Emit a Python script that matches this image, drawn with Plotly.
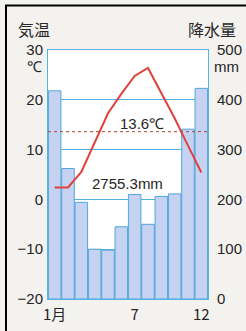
import plotly.graph_objects as go

months = list(range(1, 13))
month_labels = ["1月", "", "", "", "", "", "7", "", "", "", "", "12"]
precip_mm = [418, 262, 194, 100, 98, 145, 210, 150, 206, 211, 341, 423]
temp_c = [2.4, 2.4, 5.5, 11.3, 17.3, 21.2, 24.8, 26.4, 21.5, 16.3, 10.8, 5.4]
mean_temp = 13.6
total_precip = "2755.3mm"
temp_ticks = [-20, -10, 0, 10, 20, 30]
temp_tick_text = ["−20", "−10", "0", "10", "20", "30"]
precip_ticks = [0, 100, 200, 300, 400, 500]
precip_tick_text = ["0", "100", "200", "300", "400", "500"]

NUM_FONT = "Liberation Sans Narrow, Arial Narrow, Liberation Sans, Arial, sans-serif"
CJK_FONT = "Noto Sans CJK JP, sans-serif"
TXT = "#262626"
BLUE = "#58b2df"
BG = "#f3f2ee"

fig = go.Figure()
# precipitation bars on the primary axis (right side), temperature on the overlaying axis
fig.add_trace(go.Bar(
    x=months, y=precip_mm, yaxis="y",
    marker=dict(color="#c6d2f2", line=dict(color="#4ea6da", width=1)),
    showlegend=False, hoverinfo="skip",
))
fig.add_trace(go.Scatter(
    x=months, y=temp_c, yaxis="y2", mode="lines",
    line=dict(color="#e2403a", width=2),
    showlegend=False, hoverinfo="skip",
))

W, H = 246, 331
L, R, T, B = 48, 38, 50, 32
pw, ph = W - L - R, H - T - B
def px(x): return (x - L) / pw
def py(y): return (H - B - y) / ph

shapes = [
    dict(type="line", xref="x", yref="y2", x0=0.5, x1=12.5, y0=mean_temp, y1=mean_temp,
         line=dict(color="#a8473a", width=1, dash="dot"), layer="above"),
    dict(type="path", xref="paper", yref="paper", layer="above",
         path=f"M {px(246)},{py(5.5)} L {px(6)},{py(5.5)} L {px(6)},{py(331)}",
         line=dict(color="black", width=2)),
]

def label(xp, yp, text, family, size, xanchor="center"):
    return dict(x=px(xp), y=py(yp), xref="paper", yref="paper", text=text, showarrow=False,
                xanchor=xanchor, yanchor="middle", font=dict(family=family, size=size, color=TXT))

ann = [
    label(33.5, 29, "気温", CJK_FONT, 16),
    label(212, 29, "降水量", CJK_FONT, 16),
    label(44, 66, "℃", NUM_FONT, 15, "right"),
    label(212, 67, "mm", NUM_FONT, 15, "left"),
    dict(x=7.53, y=15.3, xref="x", yref="y2", text=f"{mean_temp}℃", showarrow=False,
         xanchor="center", yanchor="middle", font=dict(family=NUM_FONT, size=15, color=TXT)),
    dict(x=6.43, y=3.1, xref="x", yref="y2", text=total_precip, showarrow=False,
         xanchor="center", yanchor="middle", font=dict(family=NUM_FONT, size=15, color=TXT)),
]

fig.update_layout(
    width=W, height=H,
    margin=dict(l=L, r=R, t=T, b=B, pad=0, autoexpand=False),
    paper_bgcolor=BG, plot_bgcolor="#ffffff",
    bargap=0.06,
    font=dict(family=NUM_FONT, size=15, color=TXT),
    annotations=ann,
    shapes=shapes,
    xaxis=dict(range=[0.5, 12.5], tickvals=months, ticktext=month_labels, showgrid=False,
               zeroline=False, showline=True, linecolor=BLUE, linewidth=1, mirror=True,
               ticks="", automargin=False, ticklabelstandoff=2,
               tickfont=dict(family=CJK_FONT, size=15, color=TXT)),
    yaxis=dict(range=[0, 500], tickvals=precip_ticks, ticktext=precip_tick_text, side="right",
               showgrid=True, gridcolor=BLUE, gridwidth=1, zeroline=False,
               showline=True, linecolor=BLUE, linewidth=1, mirror=True, ticks="",
               automargin=False, ticklabelstandoff=5,
               tickfont=dict(family=NUM_FONT, size=15, color=TXT)),
    yaxis2=dict(range=[-20, 30], tickvals=temp_ticks, ticktext=temp_tick_text,
                overlaying="y", side="left", showgrid=False, zeroline=False, ticks="",
                automargin=False, ticklabelstandoff=4,
                tickfont=dict(family=NUM_FONT, size=15, color=TXT)),
)
fig.write_html(
    "out.html",
    config={"displayModeBar": False},
    post_script="document.body.style.margin='0';document.body.style.background='" + BG + "';",
)
